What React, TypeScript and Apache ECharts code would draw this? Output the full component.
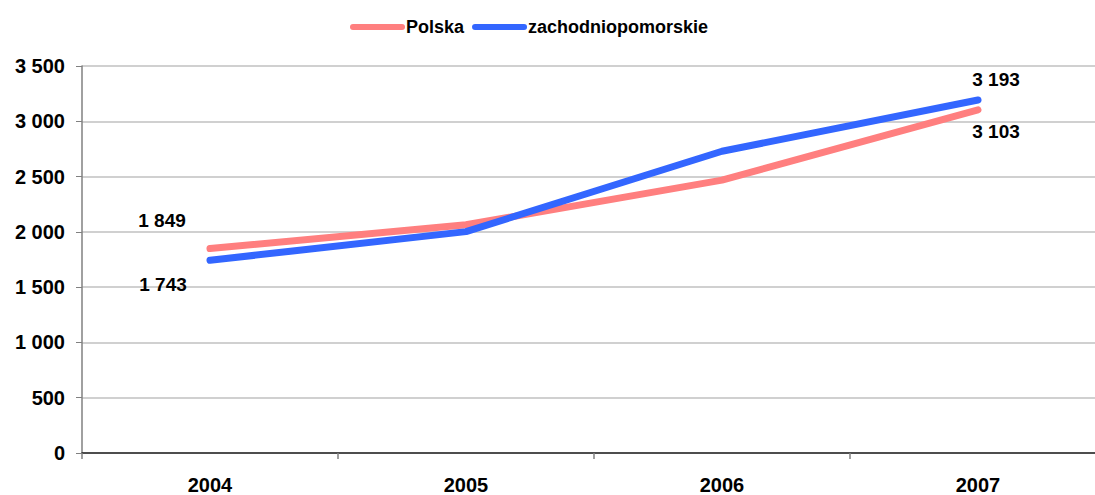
import React, { useEffect, useRef } from "react";
import * as echarts from "echarts";

const years = ["2004", "2005", "2006", "2007"];
const polska = [1849, 2064, 2468, 3103];
const zachodniopomorskie = [1743, 2002, 2729, 3193];
const yTicks = { min: 0, max: 3500, interval: 500 };

const fmt = (v: number) => {
  const s = String(Math.round(v));
  return s.replace(/\B(?=(\d{3})+(?!\d))/g, " ");
};

const FONT = "'Liberation Sans', Arial, sans-serif";

export default function App() {
  const ref = useRef<HTMLDivElement>(null);
  useEffect(() => {
    if (!ref.current) return;
    const chart = echarts.init(ref.current, undefined, { renderer: "svg" });
    const labelStyle = {
      show: true,
      position: "inside" as const,
      color: "#000",
      fontWeight: "bold" as const,
      fontSize: 19,
      fontFamily: FONT,
      formatter: (p: any) => fmt(p.value),
    };
    const mk = (vals: number[], offsets: Record<number, number[]>) =>
      vals.map((v, i) =>
        offsets[i]
          ? { value: v, label: { ...labelStyle, offset: offsets[i] } }
          : { value: v }
      );
    const legendIcon =
      "path://M3,0 L52,0 A3,3 0 0 1 52,6 L3,6 A3,3 0 0 1 3,0 Z";
    chart.setOption({
      animation: false,
      backgroundColor: "#fff",
      textStyle: { fontFamily: FONT },
      legend: {
        left: 345,
        top: 13,
        itemWidth: 55,
        itemHeight: 7,
        itemGap: 8,
        textStyle: {
          fontFamily: FONT,
          fontWeight: "bold",
          fontSize: 18,
          color: "#000",
          padding: [0, 0, 0, -4],
        },
        data: [
          { name: "Polska", icon: legendIcon },
          { name: "zachodniopomorskie", icon: legendIcon },
        ],
      },
      grid: { left: 82, right: 0, top: 66, bottom: 39, containLabel: false },
      xAxis: {
        type: "category",
        data: years,
        boundaryGap: true,
        axisLine: { lineStyle: { color: "#222", width: 1.5 } },
        axisTick: {
          show: true,
          length: 6,
          alignWithLabel: false,
          lineStyle: { color: "#808080", width: 1.5 },
        },
        axisLabel: {
          margin: 22,
          color: "#000",
          fontWeight: "bold",
          fontSize: 20,
          fontFamily: FONT,
        },
        splitLine: { show: false },
      },
      yAxis: {
        type: "value",
        min: yTicks.min,
        max: yTicks.max,
        interval: yTicks.interval,
        axisLine: { show: true, lineStyle: { color: "#808080", width: 1.5 } },
        axisTick: {
          show: true,
          length: 6,
          lineStyle: { color: "#808080", width: 1 },
        },
        axisLabel: {
          margin: 17,
          color: "#000",
          fontWeight: "bold",
          fontSize: 20,
          fontFamily: FONT,
          formatter: (v: number) => fmt(v),
        },
        splitLine: { show: true, lineStyle: { color: "#c0c0c0", width: 1.5 } },
      },
      series: [
        {
          name: "Polska",
          type: "line",
          data: mk(polska, { 0: [-48, -28], 3: [18, 22] }),
          symbol: "circle",
          symbolSize: 1,
          showSymbol: true,
          lineStyle: { color: "#FF7F7F", width: 7, cap: "round", join: "round" },
          itemStyle: { color: "#FF7F7F" },
          label: { show: false },
        },
        {
          name: "zachodniopomorskie",
          type: "line",
          data: mk(zachodniopomorskie, { 0: [-47, 24], 3: [18, -20] }),
          symbol: "circle",
          symbolSize: 1,
          showSymbol: true,
          lineStyle: { color: "#3366FF", width: 7, cap: "round", join: "round" },
          itemStyle: { color: "#3366FF" },
          label: { show: false },
        },
      ],
    });
    return () => chart.dispose();
  }, []);
  return (
    <div
      style={{
        position: "absolute",
        left: 0,
        top: 0,
        width: 1095,
        height: 495,
        overflow: "hidden",
      }}
    >
      <div ref={ref} style={{ width: 1106, height: 495 }} />
    </div>
  );
}
